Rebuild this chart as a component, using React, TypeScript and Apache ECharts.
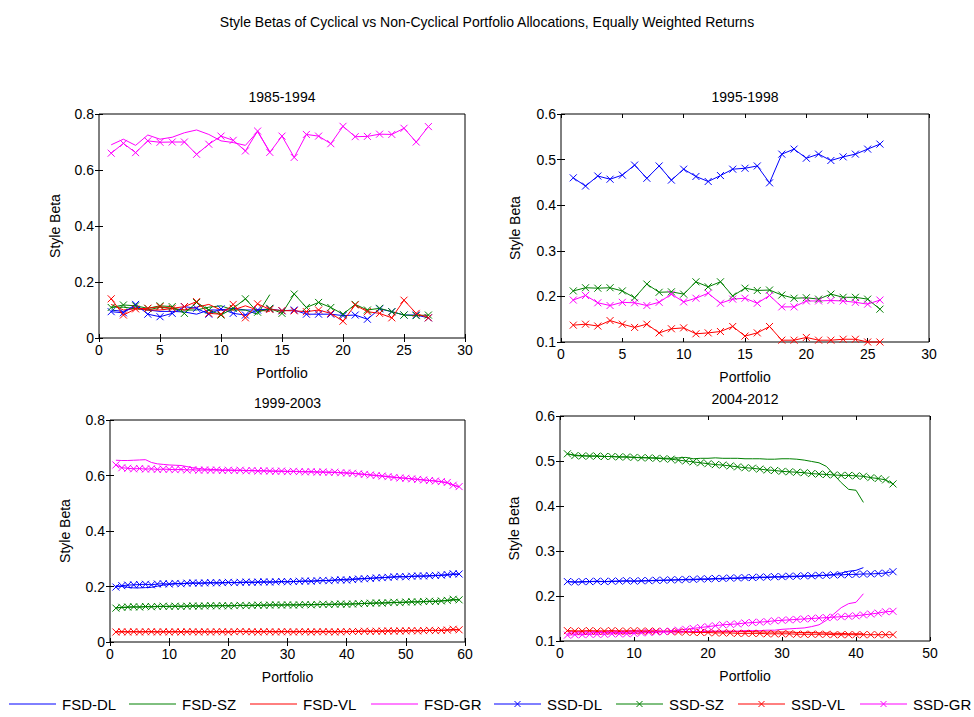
import React, { useEffect, useRef } from "react";
import * as echarts from "echarts";

// ---------- Data ----------
const SERIES_NAMES = ["FSD-DL", "FSD-SZ", "FSD-VL", "FSD-GR", "SSD-DL", "SSD-SZ", "SSD-VL", "SSD-GR"];
const SERIES_COLORS = ["#0000FF", "#008000", "#FF0000", "#FF00FF", "#0000FF", "#008000", "#FF0000", "#FF00FF"];
const PANEL_TITLES = ["1985-1994", "1995-1998", "1999-2003", "2004-2012"];
const X_MAX = [30, 30, 60, 50];
const X_INT = [5, 5, 10, 10];
const Y_MIN = [0, 0.1, 0, 0.1];
const Y_MAX = [0.8, 0.6, 0.8, 0.6];
const Y_INT = [0.2, 0.1, 0.2, 0.1];

// Panel 1: 1985-1994
const p1FsdDL = [0.1, 0.095, 0.11, 0.1, 0.095, 0.095, 0.093, 0.085, 0.1, 0.1, 0.106, 0.1, 0.1, 0.1];
const p1FsdSZ = [0.11, 0.11, 0.105, 0.1, 0.11, 0.105, 0.1, 0.1, 0.11, 0.115, 0.1, 0.1, 0.085, 0.155];
const p1FsdVL = [0.12, 0.1, 0.105, 0.1, 0.1, 0.105, 0.1, 0.11, 0.12, 0.1, 0.1, 0.115, 0.1, 0.095];
const p1FsdGR = [0.69, 0.71, 0.688, 0.725, 0.71, 0.717, 0.733, 0.743, 0.727, 0.704, 0.698, 0.688, 0.737, 0.665];
const p1SsdDL = [0.094, 0.09, 0.12, 0.085, 0.076, 0.088, 0.112, 0.106, 0.085, 0.104, 0.088, 0.082, 0.1, 0.104, 0.097, 0.1, 0.085, 0.085, 0.085, 0.08, 0.082, 0.067, 0.104, 0.094, 0.082, 0.082, 0.072];
const p1SsdSZ = [0.109, 0.118, 0.115, 0.106, 0.115, 0.112, 0.088, 0.127, 0.1, 0.082, 0.106, 0.14, 0.092, 0.106, 0.088, 0.157, 0.109, 0.127, 0.109, 0.085, 0.12, 0.1, 0.106, 0.094, 0.082, 0.08, 0.082];
const p1SsdVL = [0.14, 0.082, 0.104, 0.106, 0.112, 0.106, 0.112, 0.13, 0.088, 0.085, 0.12, 0.072, 0.122, 0.102, 0.098, 0.097, 0.094, 0.1, 0.088, 0.06, 0.118, 0.094, 0.088, 0.072, 0.135, 0.088, 0.072];
const p1SsdGR = [0.66, 0.695, 0.662, 0.704, 0.699, 0.7, 0.7, 0.656, 0.692, 0.721, 0.706, 0.668, 0.739, 0.663, 0.721, 0.645, 0.727, 0.721, 0.694, 0.756, 0.719, 0.72, 0.728, 0.727, 0.749, 0.7, 0.755];

// Panel 2: 1995-1998
const p2SsdDL = [0.46, 0.442, 0.464, 0.457, 0.466, 0.488, 0.459, 0.486, 0.455, 0.479, 0.463, 0.452, 0.465, 0.479, 0.481, 0.486, 0.449, 0.512, 0.523, 0.503, 0.512, 0.498, 0.506, 0.512, 0.523, 0.534];
const p2SsdSZ = [0.212, 0.219, 0.218, 0.219, 0.212, 0.197, 0.227, 0.209, 0.21, 0.205, 0.232, 0.221, 0.232, 0.201, 0.218, 0.213, 0.214, 0.203, 0.196, 0.197, 0.194, 0.205, 0.198, 0.198, 0.194, 0.172];
const p2SsdVL = [0.137, 0.139, 0.135, 0.147, 0.139, 0.132, 0.139, 0.12, 0.129, 0.131, 0.118, 0.12, 0.123, 0.134, 0.113, 0.12, 0.134, 0.104, 0.104, 0.11, 0.104, 0.104, 0.106, 0.106, 0.1, 0.1];
const p2SsdGR = [0.192, 0.202, 0.186, 0.18, 0.187, 0.186, 0.18, 0.187, 0.205, 0.188, 0.196, 0.207, 0.185, 0.194, 0.196, 0.185, 0.202, 0.177, 0.177, 0.19, 0.19, 0.191, 0.19, 0.187, 0.183, 0.192];

// Panel 3: 1999-2003
const p3FsdDL = [0.203, 0.2, 0.197, 0.195, 0.195, 0.196, 0.197, 0.201, 0.205, 0.207, 0.21, 0.21, 0.211, 0.212, 0.212, 0.212, 0.213, 0.213, 0.213, 0.214, 0.214, 0.214, 0.215, 0.215, 0.215, 0.216, 0.216, 0.216, 0.217, 0.217, 0.218, 0.218, 0.219, 0.219, 0.22, 0.221, 0.222, 0.223, 0.225, 0.226, 0.227, 0.228, 0.229, 0.23, 0.231, 0.232, 0.233, 0.234, 0.235, 0.235, 0.236, 0.237, 0.237, 0.238, 0.239, 0.24, 0.241, 0.243, 0.244];
const p3FsdSZ = [0.124, 0.124, 0.125, 0.126, 0.126, 0.127, 0.127, 0.128, 0.128, 0.128, 0.129, 0.129, 0.129, 0.13, 0.13, 0.13, 0.13, 0.131, 0.131, 0.131, 0.131, 0.132, 0.132, 0.132, 0.132, 0.133, 0.133, 0.133, 0.133, 0.134, 0.134, 0.134, 0.134, 0.135, 0.135, 0.135, 0.136, 0.136, 0.136, 0.137, 0.137, 0.138, 0.139, 0.139, 0.14, 0.141, 0.141, 0.142, 0.143, 0.143, 0.144, 0.145, 0.145, 0.146, 0.147, 0.148, 0.149, 0.151, 0.152];
const p3FsdVL = [0.037, 0.037, 0.037, 0.037, 0.037, 0.037, 0.037, 0.037, 0.037, 0.037, 0.037, 0.037, 0.037, 0.037, 0.037, 0.037, 0.037, 0.037, 0.037, 0.037, 0.038, 0.038, 0.038, 0.038, 0.038, 0.038, 0.038, 0.038, 0.038, 0.038, 0.038, 0.038, 0.038, 0.038, 0.038, 0.038, 0.038, 0.038, 0.038, 0.038, 0.038, 0.039, 0.039, 0.039, 0.039, 0.039, 0.04, 0.04, 0.04, 0.04, 0.041, 0.041, 0.041, 0.042, 0.042, 0.042, 0.043, 0.043, 0.044];
const p3FsdGR = [0.655, 0.654, 0.654, 0.655, 0.656, 0.657, 0.647, 0.642, 0.64, 0.638, 0.637, 0.636, 0.632, 0.628, 0.625, 0.623, 0.622, 0.621, 0.62, 0.62, 0.619, 0.619, 0.618, 0.618, 0.617, 0.617, 0.616, 0.616, 0.615, 0.615, 0.615, 0.614, 0.614, 0.613, 0.613, 0.612, 0.612, 0.611, 0.61, 0.609, 0.608, 0.606, 0.604, 0.602, 0.6, 0.598, 0.596, 0.594, 0.592, 0.59, 0.588, 0.586, 0.584, 0.582, 0.58, 0.577, 0.573, 0.566, 0.558];
const p3SsdDL = [0.198, 0.203, 0.205, 0.206, 0.207, 0.208, 0.206, 0.209, 0.21, 0.209, 0.211, 0.21, 0.212, 0.213, 0.212, 0.213, 0.214, 0.213, 0.214, 0.215, 0.214, 0.215, 0.216, 0.215, 0.216, 0.217, 0.216, 0.217, 0.218, 0.217, 0.218, 0.219, 0.22, 0.219, 0.221, 0.222, 0.221, 0.223, 0.224, 0.223, 0.225, 0.227, 0.228, 0.229, 0.231, 0.232, 0.233, 0.235, 0.236, 0.235, 0.237, 0.238, 0.238, 0.239, 0.24, 0.241, 0.243, 0.246, 0.245];
const p3SsdSZ = [0.122, 0.125, 0.126, 0.127, 0.126, 0.128, 0.127, 0.128, 0.129, 0.128, 0.129, 0.128, 0.129, 0.13, 0.129, 0.13, 0.131, 0.13, 0.131, 0.13, 0.131, 0.132, 0.131, 0.132, 0.133, 0.132, 0.133, 0.134, 0.133, 0.134, 0.133, 0.134, 0.135, 0.134, 0.135, 0.136, 0.135, 0.136, 0.137, 0.136, 0.137, 0.138, 0.139, 0.14, 0.141, 0.14, 0.142, 0.143, 0.142, 0.144, 0.145, 0.144, 0.146, 0.147, 0.146, 0.148, 0.15, 0.154, 0.152];
const p3SsdVL = [0.036, 0.037, 0.036, 0.037, 0.036, 0.037, 0.037, 0.036, 0.037, 0.036, 0.037, 0.036, 0.037, 0.037, 0.036, 0.037, 0.036, 0.037, 0.037, 0.036, 0.037, 0.038, 0.037, 0.037, 0.036, 0.037, 0.037, 0.036, 0.037, 0.037, 0.036, 0.037, 0.037, 0.036, 0.037, 0.037, 0.037, 0.036, 0.037, 0.037, 0.038, 0.038, 0.039, 0.038, 0.039, 0.039, 0.04, 0.039, 0.04, 0.04, 0.041, 0.04, 0.041, 0.042, 0.041, 0.042, 0.043, 0.046, 0.044];
const p3SsdGR = [0.638, 0.628, 0.626, 0.624, 0.625, 0.623, 0.624, 0.622, 0.623, 0.622, 0.621, 0.622, 0.62, 0.621, 0.619, 0.62, 0.619, 0.62, 0.618, 0.619, 0.618, 0.619, 0.617, 0.618, 0.616, 0.617, 0.616, 0.615, 0.616, 0.614, 0.615, 0.614, 0.613, 0.614, 0.612, 0.613, 0.611, 0.612, 0.61, 0.609, 0.608, 0.606, 0.604, 0.602, 0.6, 0.598, 0.596, 0.593, 0.591, 0.59, 0.588, 0.586, 0.584, 0.582, 0.58, 0.578, 0.575, 0.565, 0.56];

// Panel 4: 2004-2012
const p4FsdDL = [0.232, 0.231, 0.231, 0.232, 0.232, 0.232, 0.232, 0.233, 0.233, 0.233, 0.233, 0.234, 0.234, 0.235, 0.235, 0.236, 0.236, 0.236, 0.237, 0.237, 0.238, 0.238, 0.239, 0.239, 0.24, 0.24, 0.241, 0.241, 0.242, 0.242, 0.243, 0.243, 0.244, 0.244, 0.245, 0.246, 0.248, 0.251, 0.255, 0.257, 0.263];
const p4FsdSZ = [0.516, 0.513, 0.512, 0.511, 0.511, 0.51, 0.51, 0.509, 0.509, 0.508, 0.508, 0.507, 0.507, 0.506, 0.506, 0.507, 0.508, 0.505, 0.506, 0.506, 0.507, 0.506, 0.506, 0.506, 0.505, 0.505, 0.505, 0.504, 0.504, 0.505, 0.505, 0.504, 0.502, 0.499, 0.496, 0.488, 0.47, 0.452, 0.437, 0.435, 0.408];
const p4FsdVL = [0.122, 0.122, 0.122, 0.122, 0.122, 0.122, 0.122, 0.122, 0.122, 0.122, 0.122, 0.122, 0.122, 0.122, 0.122, 0.121, 0.121, 0.121, 0.121, 0.121, 0.121, 0.121, 0.121, 0.121, 0.121, 0.121, 0.12, 0.12, 0.12, 0.12, 0.12, 0.119, 0.119, 0.119, 0.118, 0.118, 0.117, 0.117, 0.116, 0.116, 0.116];
const p4FsdGR = [0.117, 0.118, 0.118, 0.118, 0.119, 0.119, 0.119, 0.119, 0.119, 0.12, 0.12, 0.12, 0.12, 0.12, 0.12, 0.121, 0.121, 0.121, 0.121, 0.122, 0.122, 0.122, 0.122, 0.122, 0.123, 0.123, 0.123, 0.124, 0.124, 0.126, 0.127, 0.128, 0.129, 0.132, 0.136, 0.146, 0.16, 0.174, 0.183, 0.186, 0.205];
const p4SsdDL = [0.232, 0.231, 0.232, 0.232, 0.233, 0.232, 0.233, 0.233, 0.234, 0.233, 0.234, 0.234, 0.235, 0.235, 0.236, 0.236, 0.237, 0.237, 0.238, 0.238, 0.239, 0.239, 0.24, 0.24, 0.241, 0.241, 0.242, 0.242, 0.243, 0.243, 0.244, 0.244, 0.245, 0.245, 0.246, 0.246, 0.247, 0.247, 0.248, 0.248, 0.249, 0.249, 0.25, 0.251, 0.254];
const p4SsdSZ = [0.516, 0.512, 0.511, 0.511, 0.511, 0.51, 0.51, 0.509, 0.509, 0.508, 0.507, 0.507, 0.506, 0.505, 0.504, 0.502, 0.5, 0.498, 0.496, 0.494, 0.492, 0.491, 0.489, 0.487, 0.485, 0.484, 0.482, 0.48, 0.479, 0.477, 0.476, 0.475, 0.474, 0.472, 0.471, 0.47, 0.469, 0.468, 0.468, 0.467, 0.466, 0.463, 0.461, 0.458, 0.449];
const p4SsdVL = [0.123, 0.122, 0.122, 0.123, 0.122, 0.122, 0.123, 0.122, 0.122, 0.123, 0.122, 0.122, 0.122, 0.121, 0.121, 0.12, 0.12, 0.119, 0.119, 0.119, 0.118, 0.118, 0.118, 0.117, 0.117, 0.117, 0.117, 0.116, 0.116, 0.116, 0.116, 0.115, 0.115, 0.115, 0.115, 0.115, 0.114, 0.114, 0.114, 0.114, 0.114, 0.114, 0.114, 0.114, 0.114];
const p4SsdGR = [0.113, 0.114, 0.114, 0.115, 0.115, 0.115, 0.116, 0.116, 0.116, 0.117, 0.118, 0.119, 0.12, 0.121, 0.122, 0.124, 0.126, 0.128, 0.13, 0.132, 0.134, 0.136, 0.137, 0.138, 0.14, 0.141, 0.142, 0.143, 0.145, 0.146, 0.147, 0.148, 0.149, 0.15, 0.151, 0.152, 0.153, 0.154, 0.155, 0.156, 0.158, 0.16, 0.162, 0.165, 0.166];

const PANELS: number[][][] = [
  [p1FsdDL, p1FsdSZ, p1FsdVL, p1FsdGR, p1SsdDL, p1SsdSZ, p1SsdVL, p1SsdGR],
  [[], [], [], [], p2SsdDL, p2SsdSZ, p2SsdVL, p2SsdGR],
  [p3FsdDL, p3FsdSZ, p3FsdVL, p3FsdGR, p3SsdDL, p3SsdSZ, p3SsdVL, p3SsdGR],
  [p4FsdDL, p4FsdSZ, p4FsdVL, p4FsdGR, p4SsdDL, p4SsdSZ, p4SsdVL, p4SsdGR],
];

// ---------- Layout ----------
const GRIDS = [
  { left: 99, top: 114, width: 366, height: 224 },
  { left: 561, top: 114, width: 368, height: 228 },
  { left: 110, top: 420, width: 355, height: 222 },
  { left: 560, top: 416, width: 370, height: 225 },
];
const FONT = '"Liberation Sans", Arial, Helvetica, sans-serif';
const FS = 14;
const X_MARK = "path://M0,0L10,10M10,0L0,10";
const LEGEND_X = [9, 129, 250, 371, 494, 616, 738, 860];
const LEGEND_Y = 704;

function fmt(v: number) {
  if (Math.abs(v) < 1e-9) return "0";
  return String(Math.round(v * 10) / 10);
}

export default function App() {
  const ref = useRef<HTMLDivElement>(null);
  useEffect(() => {
    document.body.style.margin = "0";
    const chart = echarts.init(ref.current!, undefined, { renderer: "svg" });

    const grid: any[] = [];
    const xAxis: any[] = [];
    const yAxis: any[] = [];
    const series: any[] = [];
    const graphic: any[] = [];
    const txt = (extra: any) => ({ fill: "#000", fontSize: FS, fontFamily: FONT, ...extra });

    GRIDS.forEach((g, p) => {
      grid.push({ ...g, show: true, borderColor: "#000", borderWidth: 1, backgroundColor: "transparent" });
      const xBase = {
        type: "value", gridIndex: p, min: 0, max: X_MAX[p], interval: X_INT[p],
        splitLine: { show: false }, axisLine: { show: false },
        axisTick: { show: true, inside: true, length: 4, lineStyle: { color: "#000" } },
      };
      xAxis.push({ ...xBase, position: "bottom",
        axisLabel: { show: true, color: "#000", fontSize: FS, fontFamily: FONT, margin: 5, formatter: (v: number) => String(v) } });
      xAxis.push({ ...xBase, position: "top", axisLabel: { show: false } });
      const yBase = {
        type: "value", gridIndex: p, min: Y_MIN[p], max: Y_MAX[p], interval: Y_INT[p],
        splitLine: { show: false }, axisLine: { show: false },
        axisTick: { show: true, inside: true, length: 4, lineStyle: { color: "#000" } },
      };
      yAxis.push({ ...yBase, position: "left",
        axisLabel: { show: true, color: "#000", fontSize: FS, fontFamily: FONT, margin: 5, formatter: fmt } });
      yAxis.push({ ...yBase, position: "right", axisLabel: { show: false } });

      PANELS[p].forEach((vals, s) => {
        if (!vals.length) return;
        const color = SERIES_COLORS[s];
        const isSSD = s >= 4;
        series.push({
          name: SERIES_NAMES[s], type: "line", xAxisIndex: 2 * p, yAxisIndex: 2 * p,
          data: vals.map((v, i) => [i + 1, v]),
          symbol: isSSD ? X_MARK : "none", symbolSize: 7, showSymbol: isSSD,
          lineStyle: { color, width: 1 },
          itemStyle: { color, borderColor: color, borderWidth: 1 },
          silent: true, clip: false,
        });
      });

      const cx = g.left + g.width / 2;
      graphic.push({ type: "text", x: cx, y: g.top - 17,
        style: txt({ text: PANEL_TITLES[p], textAlign: "center", textVerticalAlign: "middle" }) });
      graphic.push({ type: "text", x: cx, y: g.top + g.height + 35,
        style: txt({ text: "Portfolio", textAlign: "center", textVerticalAlign: "middle" }) });
      graphic.push({ type: "text", x: g.left - (p === 0 ? 44 : p === 2 ? 45 : 46), y: g.top + g.height / 2, rotation: Math.PI / 2,
        style: txt({ text: "Style Beta", textAlign: "center", textVerticalAlign: "middle" }) });
    });

    // Legend drawn as graphic (line, optional x marker, label)
    SERIES_NAMES.forEach((name, s) => {
      const x0 = LEGEND_X[s];
      const color = SERIES_COLORS[s];
      graphic.push({ type: "line", shape: { x1: x0, y1: LEGEND_Y, x2: x0 + 47, y2: LEGEND_Y },
        style: { stroke: color, lineWidth: 1 } });
      if (s >= 4) {
        const mx = x0 + 23.5;
        graphic.push({ type: "line", shape: { x1: mx - 3, y1: LEGEND_Y - 3, x2: mx + 3, y2: LEGEND_Y + 3 }, style: { stroke: color, lineWidth: 1 } });
        graphic.push({ type: "line", shape: { x1: mx + 3, y1: LEGEND_Y - 3, x2: mx - 3, y2: LEGEND_Y + 3 }, style: { stroke: color, lineWidth: 1 } });
      }
      graphic.push({ type: "text", x: x0 + 53, y: LEGEND_Y,
        style: txt({ text: name, fontSize: 15, textAlign: "left", textVerticalAlign: "middle" }) });
    });

    chart.setOption({
      animation: false,
      backgroundColor: "#fff",
      title: {
        text: "Style Betas of Cyclical vs Non-Cyclical Portfolio Allocations, Equally Weighted Returns",
        left: "center", top: 10,
        textStyle: { fontSize: FS, fontWeight: "normal", color: "#000", fontFamily: FONT },
      },
      grid, xAxis, yAxis, series, graphic,
    });
    return () => chart.dispose();
  }, []);
  return <div ref={ref} style={{ width: 974, height: 717 }} />;
}
